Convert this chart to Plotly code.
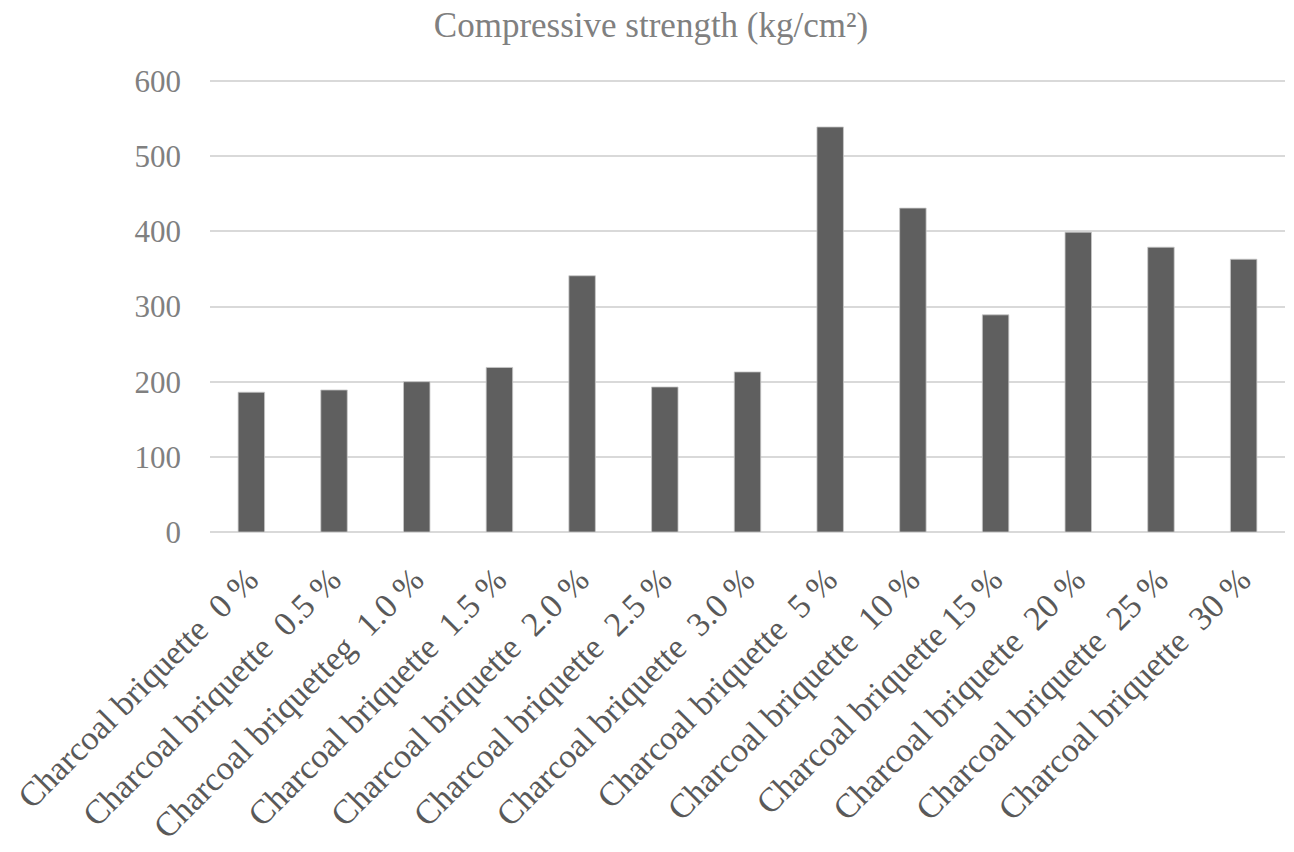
import plotly.graph_objects as go

NB = "\u00a0"

categories = [
    "Charcoal briquette" + NB + NB + "0" + NB + "%",
    "Charcoal briquette" + NB + NB + "0.5" + NB + "%",
    "Charcoal briquetteg" + NB + NB + "1.0" + NB + "%",
    "Charcoal briquette" + NB + NB + "1.5" + NB + "%",
    "Charcoal briquette" + NB + NB + "2.0" + NB + "%",
    "Charcoal briquette" + NB + NB + "2.5" + NB + "%",
    "Charcoal briquette" + NB + NB + "3.0" + NB + "%",
    "Charcoal briquette" + NB + NB + "5" + NB + "%",
    "Charcoal briquette" + NB + NB + "10" + NB + "%",
    "Charcoal briquette" + NB + "15" + NB + "%",
    "Charcoal briquette" + NB + NB + "20" + NB + "%",
    "Charcoal briquette" + NB + NB + "25" + NB + "%",
    "Charcoal briquette" + NB + NB + "30" + NB + "%",
]
strength = [186, 189, 200, 219, 341, 193, 213, 539, 431, 289, 399, 379, 363]

y_ticks = [0, 100, 200, 300, 400, 500, 600]

font_family = "Liberation Serif, Times New Roman, serif"

fig = go.Figure(
    go.Bar(
        x=categories,
        y=strength,
        marker=dict(color="#5f5f5f", line=dict(color="#c8c8c8", width=0.8)),
    )
)

# page body adds an 8px offset, so the figure is sized a little smaller
fig.update_layout(
    width=1286,
    height=844,
    paper_bgcolor="white",
    plot_bgcolor="white",
    bargap=0.68,
    showlegend=False,
    margin=dict(l=202, r=9, t=72, b=320, autoexpand=False),
    title=dict(
        text="Compressive strength (kg/cm²)",
        x=0.5,
        xanchor="center",
        y=0.995,
        yanchor="top",
        font=dict(family=font_family, size=35, color="#808080"),
    ),
    font=dict(family=font_family),
)

fig.update_yaxes(
    range=[0, 601.5],
    tickvals=y_ticks,
    showgrid=True,
    gridcolor="#d9d9d9",
    gridwidth=1.5,
    zeroline=True,
    zerolinecolor="#d9d9d9",
    zerolinewidth=1.5,
    showline=False,
    ticks="",
    automargin=False,
    ticklabelstandoff=28,
    tickfont=dict(family=font_family, size=31, color="#808080"),
)

fig.update_xaxes(
    tickangle=-45,
    showgrid=False,
    showline=False,
    ticks="",
    automargin=False,
    ticklabelstandoff=20,
    ticklabelshift=-3,
    tickfont=dict(family=font_family, size=34, color="#595959"),
)

fig.write_html("out.html")
